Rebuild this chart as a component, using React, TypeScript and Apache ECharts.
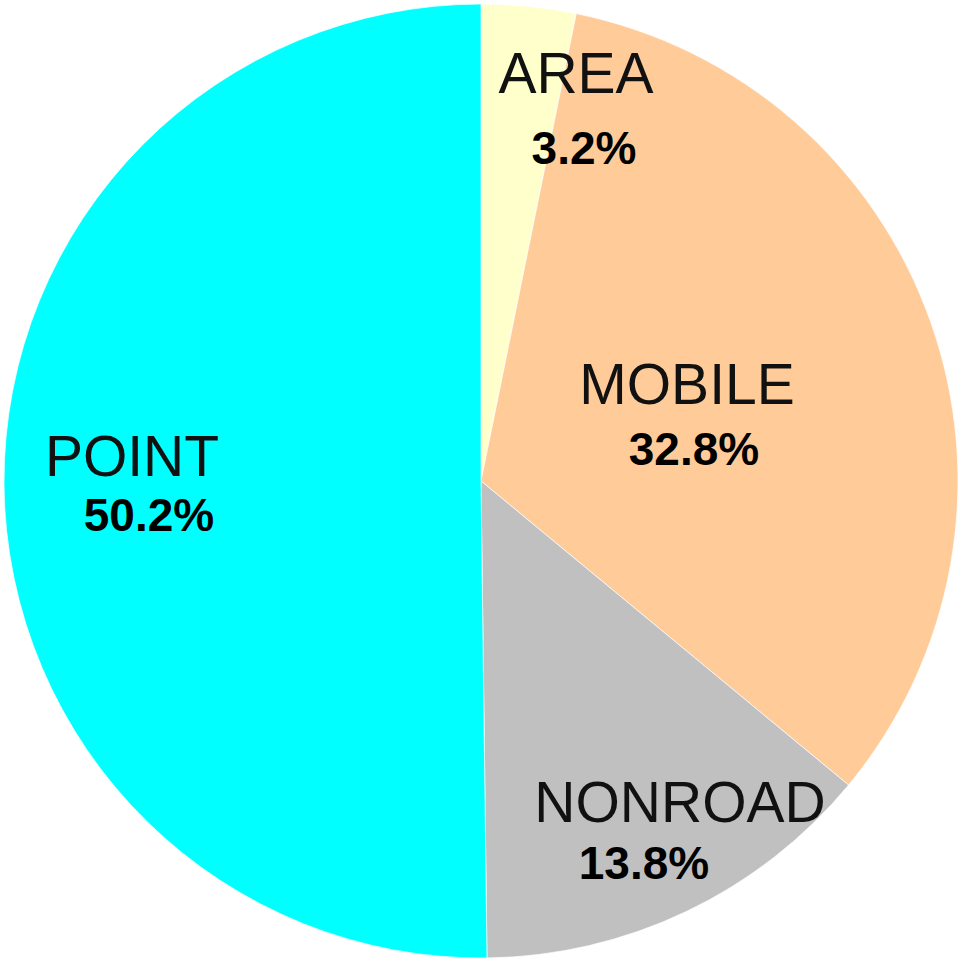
import React, { useEffect, useRef } from "react";
import * as echarts from "echarts";

const CATEGORIES = ["AREA", "MOBILE", "NONROAD", "POINT"];
const SHARES = [3.2, 32.8, 13.8, 50.2];
const COLORS = ["#FFFFCC", "#FFCC99", "#C0C0C0", "#00FFFF"];

// label anchor points (centre of text), in pixels
const NAME_POS: [number, number][] = [
  [576, 73],
  [687, 384],
  [680, 802],
  [132, 456],
];
const PCT_POS: [number, number][] = [
  [584, 148],
  [694, 449],
  [644, 863],
  [149, 515],
];

export default function App() {
  const ref = useRef<HTMLDivElement>(null);
  useEffect(() => {
    if (!ref.current) return;
    const chart = echarts.init(ref.current, undefined, { renderer: "svg" });
    const data = CATEGORIES.map((name, i) => ({
      name,
      value: SHARES[i],
      itemStyle: { color: COLORS[i] },
    }));
    const common = {
      type: "pie" as const,
      center: [481, 481],
      radius: 477,
      startAngle: 90,
      clockwise: true,
      avoidLabelOverlap: false,
      labelLine: { show: false },
      emphasis: { disabled: true },
    };
    chart.setOption({
      animation: false,
      backgroundColor: "#ffffff",
      series: [
        {
          ...common,
          data,
          itemStyle: { borderColor: "rgba(255,255,255,0.7)", borderWidth: 1 },
          label: {
            show: true,
            position: "inside",
            formatter: (p: any) => p.name,
            fontFamily: "Liberation Sans, Arial, sans-serif",
            fontSize: 57,
            color: "#111111",
          },
          labelLayout: (p: any) => ({
            x: NAME_POS[p.dataIndex][0],
            y: NAME_POS[p.dataIndex][1],
            align: "center",
            verticalAlign: "middle",
          }),
        },
        {
          ...common,
          silent: true,
          data: CATEGORIES.map((name, i) => ({ name, value: SHARES[i] })),
          itemStyle: { color: "rgba(0,0,0,0)", borderWidth: 0 },
          label: {
            show: true,
            position: "inside",
            formatter: (p: any) => `${Number(p.value).toFixed(1)}%`,
            fontFamily: "Liberation Sans, Arial, sans-serif",
            fontSize: 46,
            fontWeight: "bold",
            color: "#000000",
          },
          labelLayout: (p: any) => ({
            x: PCT_POS[p.dataIndex][0],
            y: PCT_POS[p.dataIndex][1],
            align: "center",
            verticalAlign: "middle",
          }),
        },
      ],
    });
    return () => chart.dispose();
  }, []);
  return (
    <div
      ref={ref}
      style={{ position: "absolute", left: 0, top: 0, width: 963, height: 965 }}
    />
  );
}
